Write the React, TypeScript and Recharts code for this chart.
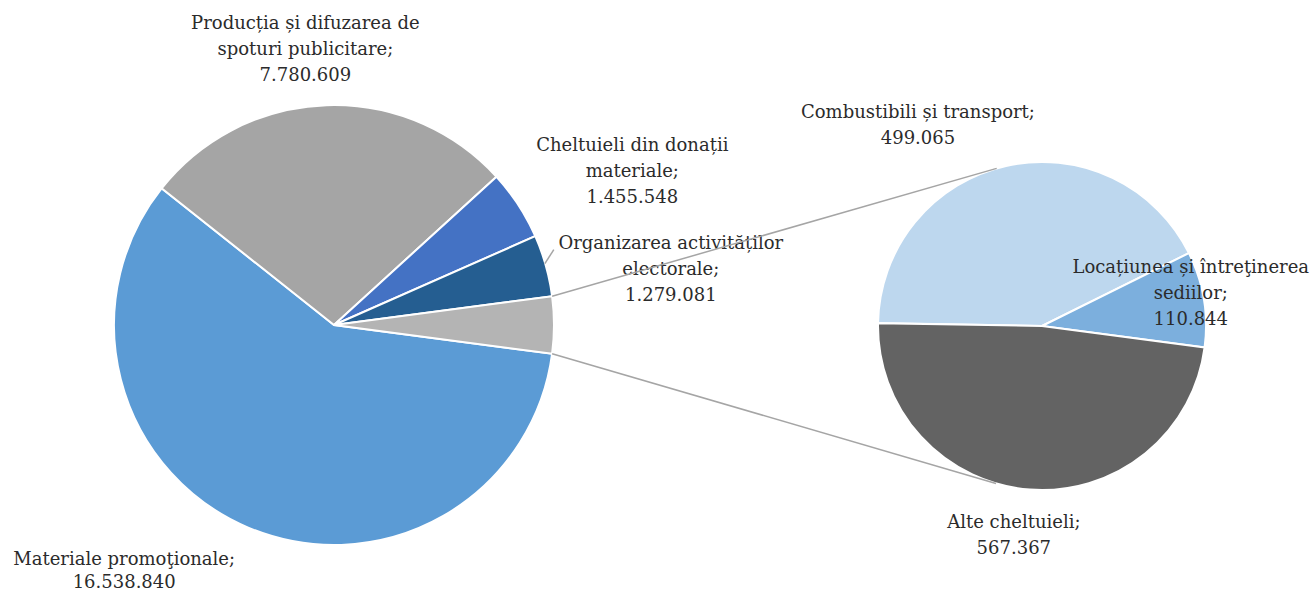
import React from 'react';
import { PieChart, Pie, Cell } from 'recharts';

// main pie categories (the last slice "Altele" is the sum of the secondary pie)
const mainNames = [
  'Materiale promoţionale',
  'Producția și difuzarea de\nspoturi publicitare',
  'Cheltuieli din donații\nmateriale',
  'Organizarea activităților\nelectorale',
];
const mainValues = [16538840, 7780609, 1455548, 1279081];
const mainColors = ['#5B9BD5', '#A5A5A5', '#4472C4', '#255E91'];
const otherColor = '#B4B4B4';

// secondary pie (breakdown of "Altele")
const subNames = ['Combustibili și transport', 'Locațiunea și întreţinerea\nsediilor', 'Alte cheltuieli'];
const subValues = [499065, 110844, 567367];
const subColors = ['#BDD7EE', '#7CAFDD', '#636363'];

// layout
const W = 1312;
const H = 592;
const MAIN_CX = 334;
const MAIN_CY = 325;
const MAIN_R = 220;
const SUB_CX = 1042;
const SUB_CY = 326;
const SUB_R = 164;
const SUB_START = 179;
const LINE_H = 26;
const FONT = '"DejaVu Serif", serif';
const FONT_SIZE = 18;
const TEXT_COLOR = '#2B2B2B';
const CONNECTOR = '#A5A5A5';

// label block offset from the slice's outer edge point (center x, first baseline)
const mainLabelOffsets = [
  { dx: -124, dy: 37, lh: 23 },
  { dx: -21, dy: -76 },
  { dx: 114, dy: -54 },
  { dx: 125, dy: -17, leader: true },
];
const subLabelOffsets = [
  { dx: -88, dy: -48 },
  { dx: -13, dy: -26 },
  { dx: -16, dy: 38 },
];

const RAD = Math.PI / 180;
const polar = (cx: number, cy: number, r: number, angle: number) => ({
  x: cx + r * Math.cos(-angle * RAD),
  y: cy + r * Math.sin(-angle * RAD),
});

const fmt = (v: number) => String(v).replace(/\B(?=(\d{3})+(?!\d))/g, '.');

const otherTotal = subValues.reduce((a, b) => a + b, 0);
const mainTotal = mainValues.reduce((a, b) => a + b, 0) + otherTotal;
const otherHalf = (otherTotal / mainTotal) * 180;
const MAIN_START = -otherHalf;

const mainData = [
  ...mainNames.map((name, i) => ({ name, value: mainValues[i] })),
  { name: 'Altele', value: otherTotal },
];
const subData = subNames.map((name, i) => ({ name, value: subValues[i] }));

const makeLabel = (names: string[], values: number[], offsets: any[]) => (props: any) => {
  const { cx, cy, midAngle, outerRadius, index } = props;
  if (index >= names.length) return null;
  const p = polar(cx, cy, outerRadius, midAngle);
  const off = offsets[index];
  const x = p.x + off.dx;
  const y = p.y + off.dy;
  const lh = off.lh ?? LINE_H;
  const lines = (names[index] + ';').split('\n').concat(fmt(values[index]));
  return (
    <g key={`lbl-${index}`}>
      {off.leader && (
        <line x1={p.x - 1} y1={p.y - 2} x2={p.x + 8} y2={p.y - 16} stroke={CONNECTOR} strokeWidth={1.5} />
      )}
      <text x={x} y={y} textAnchor="middle" fill={TEXT_COLOR} fontFamily={FONT} fontSize={FONT_SIZE}>
        {lines.map((l, i) => (
          <tspan key={i} x={x} dy={i === 0 ? 0 : lh}>
            {l}
          </tspan>
        ))}
      </text>
    </g>
  );
};

// tangent point on the secondary pie seen from an external point
const tangent = (px: number, py: number, upper: boolean) => {
  const vx = px - SUB_CX;
  const vy = py - SUB_CY;
  const d = Math.hypot(vx, vy);
  const base = Math.atan2(vy, vx);
  const a = Math.acos(SUB_R / d);
  const p1 = { x: SUB_CX + SUB_R * Math.cos(base + a), y: SUB_CY + SUB_R * Math.sin(base + a) };
  const p2 = { x: SUB_CX + SUB_R * Math.cos(base - a), y: SUB_CY + SUB_R * Math.sin(base - a) };
  return upper ? (p1.y < p2.y ? p1 : p2) : p1.y > p2.y ? p1 : p2;
};

const Connectors = () => {
  const top = polar(MAIN_CX, MAIN_CY, MAIN_R, otherHalf);
  const bottom = polar(MAIN_CX, MAIN_CY, MAIN_R, -otherHalf);
  const t1 = tangent(top.x, top.y, true);
  const t2 = tangent(bottom.x, bottom.y, false);
  return (
    <svg width={W} height={H} style={{ position: 'absolute', left: 0, top: 0, pointerEvents: 'none' }}>
      <line x1={top.x} y1={top.y} x2={t1.x} y2={t1.y} stroke={CONNECTOR} strokeWidth={1.5} />
      <line x1={bottom.x} y1={bottom.y} x2={t2.x} y2={t2.y} stroke={CONNECTOR} strokeWidth={1.5} />
    </svg>
  );
};

export default function App() {
  return (
    <div style={{ position: 'absolute', left: 0, top: 0, width: W, height: H, background: '#fff' }}>
      <PieChart width={W} height={H} margin={{ top: 0, right: 0, bottom: 0, left: 0 }}>
        <Pie
          data={mainData}
          dataKey="value"
          nameKey="name"
          cx={MAIN_CX}
          cy={MAIN_CY}
          outerRadius={MAIN_R}
          startAngle={MAIN_START}
          endAngle={MAIN_START - 360}
          stroke="#fff"
          strokeWidth={2}
          label={makeLabel(mainNames, mainValues, mainLabelOffsets)}
          labelLine={false}
          isAnimationActive={false}
        >
          {mainData.map((d, i) => (
            <Cell key={d.name} fill={i < mainColors.length ? mainColors[i] : otherColor} />
          ))}
        </Pie>
        <Pie
          data={subData}
          dataKey="value"
          nameKey="name"
          cx={SUB_CX}
          cy={SUB_CY}
          outerRadius={SUB_R}
          startAngle={SUB_START}
          endAngle={SUB_START - 360}
          stroke="#fff"
          strokeWidth={2}
          label={makeLabel(subNames, subValues, subLabelOffsets)}
          labelLine={false}
          isAnimationActive={false}
        >
          {subData.map((d, i) => (
            <Cell key={d.name} fill={subColors[i]} />
          ))}
        </Pie>
      </PieChart>
      <Connectors />
    </div>
  );
}
